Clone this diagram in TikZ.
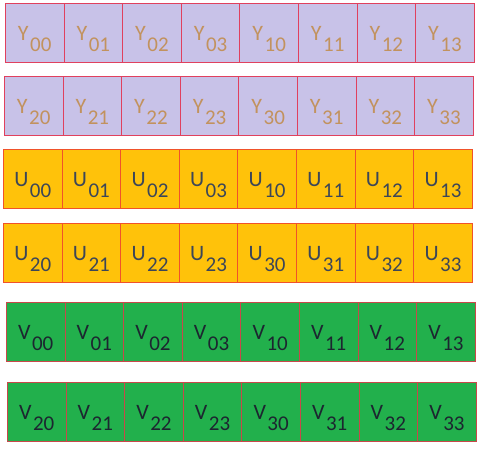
\documentclass[tikz,border=0pt]{standalone}
\usepackage{fontspec}
\setmainfont{Carlito}
\usetikzlibrary{positioning}
\definecolor{LumaFill}{HTML}{C8C2E8}
\definecolor{LumaText}{HTML}{C2925E}
\definecolor{LumaEdge}{HTML}{E0405E}
\definecolor{ChromaUFill}{HTML}{FFC20A}
\definecolor{ChromaUText}{HTML}{3C4658}
\definecolor{ChromaUEdge}{HTML}{F0522A}
\definecolor{ChromaVFill}{HTML}{22B04C}
\definecolor{ChromaVText}{HTML}{1C2630}
\definecolor{ChromaVEdge}{HTML}{C8484A}
% sample name: letter with a big lowered index
\newcommand{\smpl}[2]{#1\hspace{1.5pt}\raisebox{-11pt}{\fontsize{21}{21}\selectfont #2}}

\begin{document}
\begin{tikzpicture}[
            x=1pt, y=-1pt,
            cell/.style = {rectangle, anchor=north west, minimum width=58.6pt, minimum height=58.5pt, inner sep=0pt, line width=0.9pt, text height=16pt, text depth=0pt, font=\fontsize{22}{22}\selectfont},
            ycell/.style = {cell, draw=LumaEdge, fill=LumaFill, text=LumaText},
            ucell/.style = {cell, draw=ChromaUEdge, fill=ChromaUFill, text=ChromaUText},
            vcell/.style = {cell, draw=ChromaVEdge, fill=ChromaVFill, text=ChromaVText}
        ]
            \useasboundingbox (0,0) rectangle (482,450);
            \foreach \ltr/\kind/\top/\lft/\subs in {
                Y/ycell/3/5/{00,01,02,03,10,11,12,13},
                Y/ycell/76/4/{20,21,22,23,30,31,32,33},
                U/ucell/149/3/{00,01,02,03,10,11,12,13},
                U/ucell/223/3/{20,21,22,23,30,31,32,33},
                V/vcell/302/6/{00,01,02,03,10,11,12,13},
                V/vcell/382/7/{20,21,22,23,30,31,32,33}}
                \foreach \ij [count=\c from 0] in \subs
                    \node [\kind] (\ltr\ij) at (\lft+58.6*\c,\top) {\smpl{\ltr}{\ij}};
        \end{tikzpicture}
\end{document}
